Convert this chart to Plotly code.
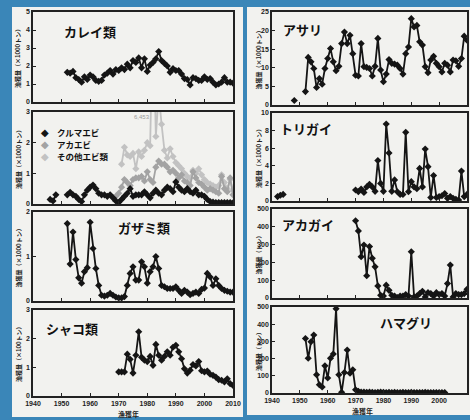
import plotly.graph_objects as go

W, H = 470, 420

# ---------------- data ----------------
karei_years = list(range(1952, 2011))
karei = [1.65,1.6,1.7,1.35,1.25,1.1,1.4,1.25,1.5,1.4,
         1.2,1.15,1.2,1.5,1.6,1.75,1.55,1.8,1.75,1.9,
         1.8,2.1,1.9,2.3,2.2,2.45,1.9,2.4,1.7,2.05,
         2.2,2.4,2.8,2.3,2.15,2.0,1.65,1.85,1.75,1.75,
         1.55,1.3,1.25,0.95,1.35,1.3,1.2,1.2,1.4,1.25,
         1.3,1.1,0.95,1.0,1.1,1.35,1.1,1.1,1.05]

kuruma_years = [1946, 1947, 1948, 1949] + list(range(1952, 2011))
kuruma = [0.15, 0.1, 0.3, None,
          0.3,0.38,0.3,0.25,0.15,0.08,0.3,0.45,0.55,0.62,
          0.5,0.35,0.3,0.3,0.25,0.3,0.2,0.1,0.05,0.15,
          0.25,0.35,0.5,0.25,0.3,0.3,0.3,0.4,0.3,0.2,
          0.35,0.45,0.35,0.3,0.45,0.55,0.5,0.4,0.72,0.55,
          0.45,0.4,0.5,0.4,0.35,0.45,0.3,0.3,0.25,0.15,
          0.08,0.06,0.05,0.05,0.05,0.05,0.05,0.05,0.04]

akaebi_years = list(range(1969, 2011))
akaebi = [0.25,0.35,0.55,0.8,0.7,0.6,0.8,0.85,0.85,0.9,0.75,
          1.05,0.8,0.7,1.2,1.4,1.3,1.3,1.2,1.05,1.1,
          1.0,0.85,0.95,0.75,0.7,0.6,1.05,0.85,0.7,0.65,
          0.55,0.45,0.5,0.45,0.4,0.35,0.9,0.5,0.4,0.85,0.3]

sonota_years = list(range(1971, 2011))
sonota = [1.3,1.85,1.6,1.55,1.65,1.15,1.7,1.55,1.75,
          2.0,1.9,6.453,2.2,3.6,2.6,1.75,1.5,1.8,1.55,
          1.35,1.25,1.15,1.0,0.9,0.85,1.1,1.0,1.15,0.95,
          0.8,0.7,0.65,0.6,0.55,0.6,0.95,0.7,0.5,0.8,0.45]

gazami_years = list(range(1952, 2011))
gazami = [1.74,0.83,1.55,0.93,0.52,0.4,0.66,0.75,1.77,1.18,
          0.73,0.35,0.13,0.11,0.13,0.17,0.13,0.09,0.07,0.07,
          0.1,0.35,0.62,0.77,0.47,0.47,0.88,0.77,0.4,0.66,
          0.77,1.0,0.73,0.35,0.32,0.28,0.28,0.28,0.32,0.24,
          0.17,0.24,0.2,0.14,0.17,0.2,0.17,0.26,0.29,0.62,
          0.54,0.35,0.5,0.35,0.28,0.24,0.22,0.2,0.2]

shako_years = list(range(1970, 2011))
shako = [0.84,0.84,0.84,1.46,1.28,0.8,1.42,2.24,1.35,1.25,
         1.2,1.38,1.07,1.8,1.42,1.25,1.38,1.54,1.42,1.7,
         1.77,1.54,1.3,0.95,0.8,0.9,1.1,1.05,1.2,0.88,
         0.84,0.87,0.76,0.72,0.66,0.57,0.55,0.49,0.6,0.43,0.37]

asari_years = [1948, 1949] + list(range(1952, 2011))
asari = [1.2, None,
         3.6,12.8,11.6,9.8,4.7,7.1,5.6,9.8,12.5,15.2,
         11.6,9.2,10.4,16.5,19.6,16.5,18.75,13.8,8.0,7.8,
         16.5,10.3,10.1,9.8,7.8,10.4,17.9,9.4,6.25,8.3,
         12.2,11.2,11.0,10.7,9.8,8.3,13.8,15.6,23.2,21.0,
         21.4,17.0,16.1,10.3,8.7,12.1,13.1,11.2,10.3,8.9,
         11.2,10.7,8.9,12.1,11.9,10.4,12.5,18.5,17.4]

torigai_years = [1942, 1943, 1944, 1945] + list(range(1970, 2011))
torigai = [0.5, 0.65, 0.75, None,
           1.25,1.05,1.35,0.98,1.6,1.9,1.6,1.1,4.6,2.0,
           1.1,8.75,5.45,1.1,2.4,1.05,0.75,0.75,7.8,1.05,
           2.2,1.6,1.4,3.7,1.6,5.9,3.9,0.4,2.9,0.4,
           0.5,0.6,0.85,0.3,0.5,0.3,0.2,0.1,3.4,0.5,0.75]

akagai_years = list(range(1970, 2011))
akagai = [434,377,232,298,125,289,223,175,68,15,
          11,72,43,15,11,2,11,11,19,11,
          260,6,11,25,38,6,30,25,11,30,
          19,25,11,81,185,6,25,19,19,25,49]

hamaguri_years = list(range(1952, 2003))
hamaguri = [317,202,298,337,106,48,35,158,87,202,
            227,490,106,4,119,250,115,135,19,10,
            6,5,4,5,4,3,4,5,4,3,
            4,3,4,3,3,4,3,3,4,3,
            3,3,3,4,3,3,3,3,3,3,3]

x_ticks = [1940, 1950, 1960, 1970, 1980, 1990, 2000, 2010]

# ---------------- layout helpers ----------------
def px_x(p):
    return p / W

def px_y(p):
    return 1 - p / H

LEFT = (33, 233)
RIGHT = (272, 467)
panels = [
    (LEFT, 12, 102, 5, 1, "カレイ類", (90, 32), "漁獲量（×1000トン）"),
    (LEFT, 112, 204, 3, 1, None, None, "漁獲量（×1000トン）"),
    (LEFT, 212, 301, 2, 1, "ガザミ類", (144, 227), "漁獲量（×1000トン）"),
    (LEFT, 310, 396, 3, 1, "シャコ類", (72, 328), "漁獲量（×100トン）"),
    (RIGHT, 12, 105, 25, 5, "アサリ", (302, 30), "漁獲量（×1000トン）"),
    (RIGHT, 113, 201, 10, 2, "トリガイ", (306, 128), "漁獲量（×1000トン）"),
    (RIGHT, 209, 298, 500, 100, "アカガイ", (308, 224), "漁獲量（トン）"),
    (RIGHT, 307, 393, 500, 100, "ハマグリ", (406, 322), "漁獲量（トン）"),
]

fig = go.Figure()

BLACK = "#151515"
GRAY1 = "#a3a3a3"
GRAY2 = "#c2c2c2"

def add_series(idx, xs, ys, color, size=5.5, width=1.8):
    ax = "" if idx == 1 else str(idx)
    fig.add_trace(go.Scatter(
        x=xs, y=ys, mode="lines+markers",
        line=dict(color=color, width=width),
        marker=dict(symbol="diamond", size=size, color=color),
        xaxis="x" + ax, yaxis="y" + ax, showlegend=False,
        connectgaps=False, hoverinfo="skip"))

add_series(1, karei_years, karei, BLACK)
add_series(2, sonota_years, sonota, GRAY2)
add_series(2, akaebi_years, akaebi, GRAY1)
add_series(2, kuruma_years, kuruma, BLACK)
add_series(3, gazami_years, gazami, BLACK)
add_series(4, shako_years, shako, BLACK)
add_series(5, asari_years, asari, BLACK)
add_series(6, torigai_years, torigai, BLACK)
add_series(7, akagai_years, akagai, BLACK)
add_series(8, hamaguri_years, hamaguri, BLACK)

annotations = []
shapes = [
    dict(type="rect", xref="paper", yref="paper", layer="below",
         x0=px_x(12), x1=px_x(243), y0=px_y(417), y1=px_y(7),
         fillcolor="#f2f2ef", line=dict(width=0)),
    dict(type="rect", xref="paper", yref="paper", layer="below",
         x0=px_x(247), x1=1.0, y0=px_y(415), y1=px_y(7),
         fillcolor="#f2f2ef", line=dict(width=0)),
]


def note(text, xp, yp, size, family="Noto Sans CJK JP", color="#111",
         xanchor="center", angle=0):
    annotations.append(dict(
        text=text, x=px_x(xp), y=px_y(yp), xref="paper", yref="paper",
        xanchor=xanchor, yanchor="middle", showarrow=False, textangle=angle,
        borderpad=0, font=dict(family=family, size=size, color=color)))


tickfont = dict(family="Liberation Sans, Arial", size=7, color="#222", weight="bold")
layout_axes = {}
for i, (col, top, bot, ymax, dt, title, tpos, ylab) in enumerate(panels, start=1):
    ax = "" if i == 1 else str(i)
    bottom_row = i in (4, 8)
    layout_axes["xaxis" + ax] = dict(
        domain=[px_x(col[0]), px_x(col[1])], anchor="y" + ax,
        range=[1940, 2010], tickvals=x_ticks, automargin=False,
        showticklabels=bottom_row, tickfont=tickfont,
        ticks="inside", ticklen=3, tickwidth=1, tickcolor="#222",
        showgrid=False, zeroline=False,
        showline=True, mirror=True, linecolor="#222", linewidth=1.5)
    layout_axes["yaxis" + ax] = dict(
        domain=[px_y(bot), px_y(top)], anchor="x" + ax,
        range=[0, ymax], dtick=dt, tickfont=tickfont, automargin=False,
        ticks="inside", ticklen=3, tickwidth=1, tickcolor="#222",
        showgrid=False, zeroline=False,
        showline=True, mirror=True, linecolor="#222", linewidth=1.5)
    if title:
        note("<b>" + title + "</b>", tpos[0], tpos[1], 13)
    ylx = 18 if col == LEFT else 258
    note("<b>" + ylab + "</b>", ylx, (top + bot) / 2, 6, color="#222", angle=-90)

note("<b>漁獲年</b>", 128, 414, 7, color="#222")
note("<b>漁獲年</b>", 362, 411, 7, color="#222")

legend_items = [("クルマエビ", BLACK, 132), ("アカエビ", GRAY1, 144), ("その他エビ類", GRAY2, 156)]
for name, color, ypx in legend_items:
    note("◆", 45, ypx, 10, family="DejaVu Sans", color=color)
    note("<b>" + name + "</b>", 56, ypx, 8.5, xanchor="left")

note("6,453", 142, 117, 6, family="Liberation Sans", color="#9a9a9a")

fig.update_layout(
    template="none",
    width=W, height=H, autosize=False,
    margin=dict(l=0, r=0, t=0, b=0, pad=0),
    paper_bgcolor="#3a86b8", plot_bgcolor="#e7e7e3",
    shapes=shapes, annotations=annotations,
    showlegend=False, **layout_axes)

fig.write_html(
    "out.html",
    config={"displayModeBar": False},
    post_script="document.body.style.margin='0';document.body.style.overflow='hidden';")
